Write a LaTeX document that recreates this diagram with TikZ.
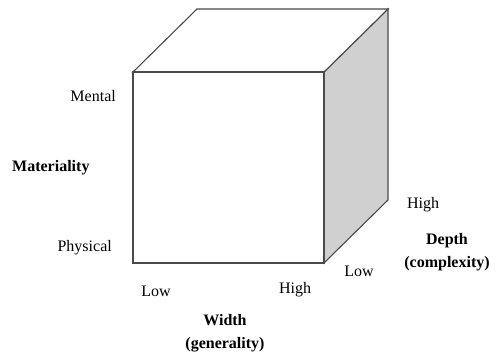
\documentclass[tikz,border=0pt]{standalone}
\usepackage{fontspec}
\setmainfont{Liberation Serif}
\usepackage{tikz}
\usetikzlibrary{positioning,calc}
\definecolor{cEdge}{HTML}{4A4A4A}
\definecolor{cSide}{HTML}{D0D0D0}
\tikzset{
  edge/.style={draw=cEdge, line width=1.1pt, line join=miter},
  lbl/.style={font=\fontsize{16}{23}\selectfont, text=black, inner sep=0pt, align=center},
  axis/.style={lbl, font=\fontsize{16}{23}\selectfont\bfseries},
}

\begin{document}
\begin{tikzpicture}[x=1pt, y=1pt]
  \useasboundingbox (0,0) rectangle (496,358);
  % cube corners --- front face and the back offset
  \coordinate (fbl) at (133,95);
  \coordinate (fbr) at (324,95);
  \coordinate (ftr) at (324,286);
  \coordinate (ftl) at (133,286);
  \coordinate (btl) at (197,349);
  \coordinate (btr) at (388,349);
  \coordinate (bbr) at (388,158);
  % faces
  \draw[edge, fill=cSide] (fbr) -- (bbr) -- (btr) -- (ftr) -- cycle;
  \draw[edge, fill=white] (ftl) -- (btl) -- (btr) -- (ftr) -- cycle;
  \draw[edge, fill=white] (fbl) rectangle (ftr);
  % materiality --- vertical axis
  \node[lbl, anchor=east] (mental) at (116,262) {Mental};
  \node[axis, anchor=west] (mat) at (12,190) {Materiality};
  \node[lbl, anchor=east] (phys) at (112,110) {Physical};
  % width --- horizontal axis
  \node[lbl] (wlow) at (156,67) {Low};
  \node[lbl] (whigh) at (295,68) {High};
  \node[axis] (width) at (225,25) {Width\\(generality)};
  % depth --- receding axis
  \node[lbl] (dlow) at (359,87) {Low};
  \node[lbl] (dhigh) at (423,153) {High};
  \node[axis] (depth) at (447,106) {Depth\\(complexity)};
\end{tikzpicture}
\end{document}
